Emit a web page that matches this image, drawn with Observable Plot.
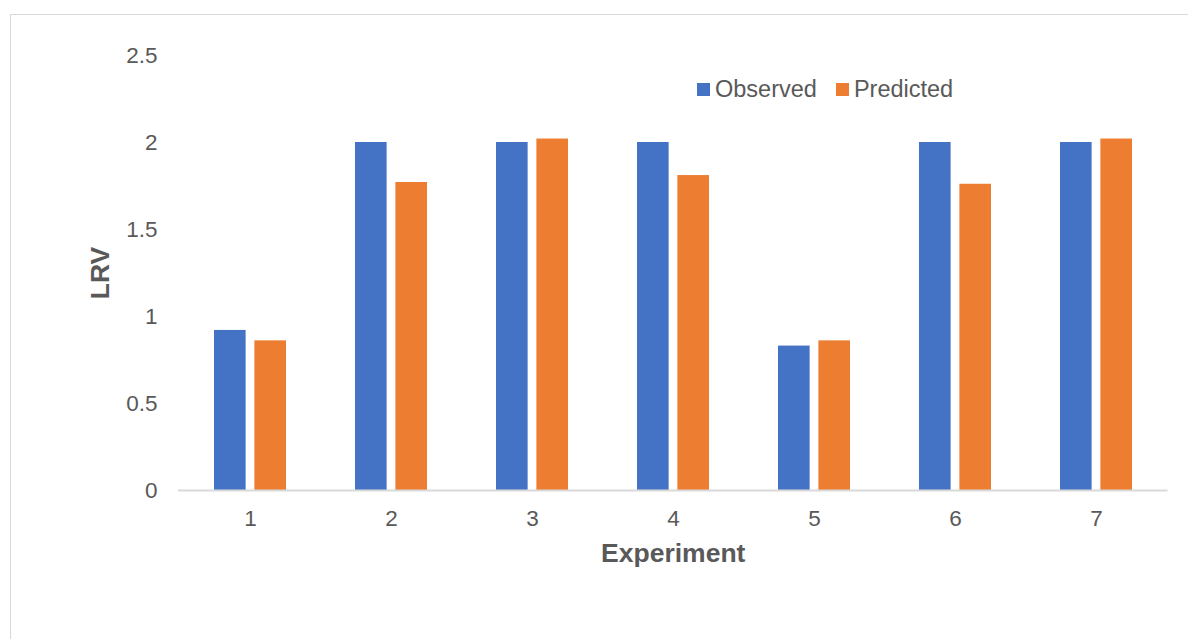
<!DOCTYPE html>
<html>
<head>
<meta charset="utf-8">
<script src="https://cdn.jsdelivr.net/npm/d3@7"></script>
<script src="https://cdn.jsdelivr.net/npm/@observablehq/plot@0.6"></script>
<style>
  body { margin: 0; background: #fff; font-family: "Liberation Sans", Arial, sans-serif; }
  #wrap { position: relative; width: 1188px; height: 639px; overflow: hidden; }
  #frame { position: absolute; left: 10px; top: 14px; width: 1220px; height: 700px; border: 1.5px solid #d9d9d9; box-sizing: border-box; }
  #chart { position: absolute; left: 0; top: 0; }
  #legend { position: absolute; left: 697px; top: 76px; }
  .lg-swatches { font-family: "Liberation Sans", Arial, sans-serif !important; font-size: 23.5px !important; color: #595959 !important; margin: 0 !important; min-height: 0 !important; }
  .lg-swatch { margin-right: 19px !important; }
  .lg-swatch > svg { margin-right: 5px !important; }
</style>
</head>
<body>
<div id="wrap">
  <div id="frame"></div>
  <div id="chart"></div>
  <div id="legend"></div>
</div>
<script>
// LRV per experiment, observed vs. model prediction
const experiments = ["1", "2", "3", "4", "5", "6", "7"];
const observed = [0.92, 2, 2, 2, 0.83, 2, 2];
const predicted = [0.86, 1.77, 2.02, 1.81, 0.86, 1.76, 2.02];
const seriesNames = ["Observed", "Predicted"];
const seriesColors = ["#4472C4", "#ED7D31"];
const yTicks = [0, 0.5, 1, 1.5, 2, 2.5];
const xTitle = "Experiment";
const yTitle = "LRV";

const rows = experiments.flatMap((e, i) => [
  {experiment: e, series: seriesNames[0], value: observed[i]},
  {experiment: e, series: seriesNames[1], value: predicted[i]}
]);

const W = 1188, H = 639, ML = 178, MR = 20.5, MT = 55, MB = 149;
const paddingInner = 0.488;
const step = (W - ML - MR) / experiments.length;
const band = step * (1 - paddingInner);
const barWidth = 32;
const inset = band - barWidth;

const textColor = "#595959";

const chart = Plot.plot({
  width: W,
  height: H,
  marginLeft: ML,
  marginRight: MR,
  marginTop: MT,
  marginBottom: MB,
  style: {fontFamily: "'Liberation Sans', Arial, sans-serif", fontSize: "22.5px", color: textColor, background: "transparent"},
  x: {
    domain: experiments,
    paddingInner,
    paddingOuter: paddingInner / 2,
    tickSize: 0,
    tickPadding: 20,
    label: xTitle,
    labelAnchor: "center",
    labelArrow: "none",
    labelOffset: 71
  },
  y: {
    domain: [0, 2.5],
    ticks: yTicks,
    tickFormat: d => String(d),
    tickSize: 0,
    tickPadding: 21,
    label: yTitle,
    labelAnchor: "center",
    labelArrow: "none",
    labelOffset: 88
  },
  color: {domain: seriesNames, range: seriesColors},
  marks: [
    Plot.barY(rows.filter(d => d.series === seriesNames[0]), {x: "experiment", y: "value", fill: "series", insetRight: inset}),
    Plot.barY(rows.filter(d => d.series === seriesNames[1]), {x: "experiment", y: "value", fill: "series", insetLeft: inset}),
    Plot.ruleY([0], {stroke: "#d9d9d9", strokeWidth: 2})
  ]
});

// bold axis titles, without the direction arrow
[["x-axis label", xTitle], ["y-axis label", yTitle]].forEach(([name, title]) => {
  chart.querySelectorAll(`g[aria-label='${name}'] text`).forEach(t => {
    t.textContent = title;
    t.setAttribute("font-weight", "bold");
    t.setAttribute("font-size", "26.5px");
  });
});
document.getElementById("chart").appendChild(chart);

const legend = chart.legend("color", {className: "lg", swatchSize: 13});
document.getElementById("legend").appendChild(legend);
</script>
</body>
</html>
